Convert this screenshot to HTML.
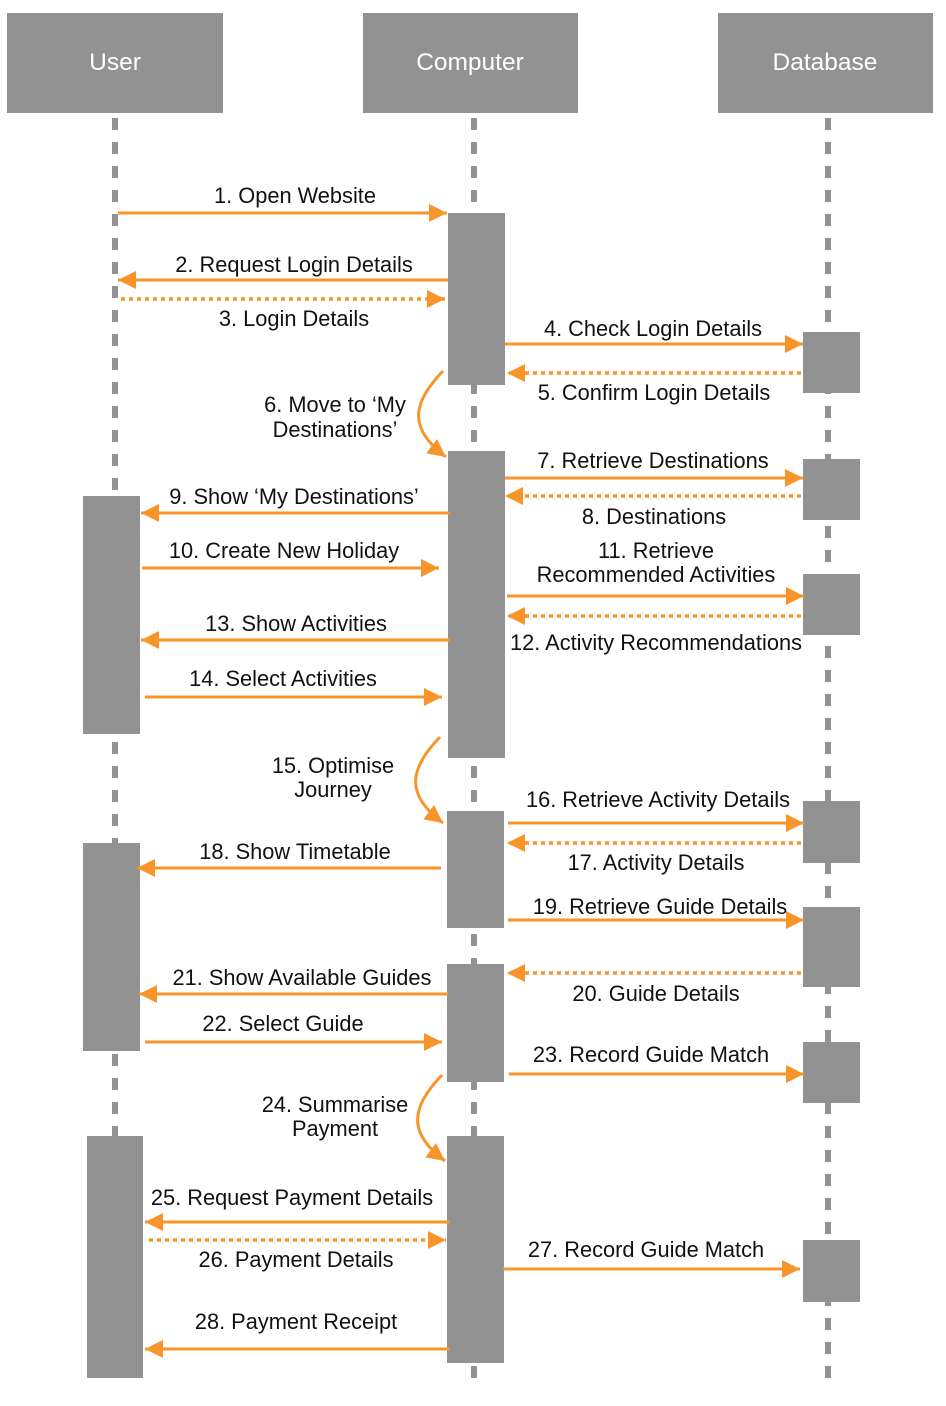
<!DOCTYPE html>
<html><head><meta charset="utf-8"><style>
html,body{margin:0;padding:0;background:#fff;}
svg{display:block;}
text{font-family:"Liberation Sans",Arial,sans-serif;font-size:21.8px;fill:#111;}
.h{fill:#fff;font-size:24.5px;}
.ll{stroke:#929292;stroke-width:6;stroke-dasharray:12 12;}
.s{stroke:#f7952a;stroke-width:3;fill:none;marker-end:url(#a);}
.d{stroke:#f7952a;stroke-width:3.5;fill:none;stroke-dasharray:4 4;marker-end:url(#a);}
.c{stroke:#f7952a;stroke-width:3;fill:none;marker-end:url(#a);}
.b{fill:#929292;}
</style></head><body>
<svg width="946" height="1406" viewBox="0 0 946 1406" xmlns="http://www.w3.org/2000/svg">
<defs><marker id="a" markerUnits="userSpaceOnUse" markerWidth="20" markerHeight="20" refX="18" refY="9" orient="auto"><path d="M0,0 L18,9 L0,18 Z" fill="#f7952a"/></marker></defs>
<rect class="b" x="7" y="13" width="216" height="100"/>
<rect class="b" x="363" y="13" width="215" height="100"/>
<rect class="b" x="718" y="13" width="215" height="100"/>
<text class="h" x="115" y="70" text-anchor="middle">User</text>
<text class="h" x="470" y="70" text-anchor="middle">Computer</text>
<text class="h" x="825" y="70" text-anchor="middle">Database</text>
<line class="ll" x1="115" y1="118" x2="115" y2="1380"/>
<line class="ll" x1="474" y1="118" x2="474" y2="1380"/>
<line class="ll" x1="828" y1="118" x2="828" y2="1380"/>
<rect class="b" x="448" y="213" width="57" height="172"/>
<rect class="b" x="448" y="451" width="57" height="307"/>
<rect class="b" x="447" y="811" width="57" height="117"/>
<rect class="b" x="447" y="964" width="57" height="118"/>
<rect class="b" x="447" y="1136" width="57" height="227"/>
<rect class="b" x="83" y="496" width="57" height="238"/>
<rect class="b" x="83" y="843" width="57" height="208"/>
<rect class="b" x="87" y="1136" width="56" height="242"/>
<rect class="b" x="803" y="332" width="57" height="61"/>
<rect class="b" x="803" y="459" width="57" height="61"/>
<rect class="b" x="803" y="574" width="57" height="61"/>
<rect class="b" x="803" y="801" width="57" height="62"/>
<rect class="b" x="803" y="907" width="57" height="80"/>
<rect class="b" x="803" y="1042" width="57" height="61"/>
<rect class="b" x="803" y="1240" width="57" height="62"/>
<line class="s" x1="118" y1="213" x2="447" y2="213"/><text x="295" y="203" text-anchor="middle">1. Open Website</text>
<line class="s" x1="448" y1="280" x2="118" y2="280"/><text x="294" y="272" text-anchor="middle">2. Request Login Details</text>
<line class="d" x1="121" y1="299" x2="445" y2="299"/><text x="294" y="326" text-anchor="middle">3. Login Details</text>
<line class="s" x1="505" y1="344" x2="803" y2="344"/><text x="653" y="336" text-anchor="middle">4. Check Login Details</text>
<line class="d" x1="801" y1="373" x2="507" y2="373"/><text x="654" y="400" text-anchor="middle">5. Confirm Login Details</text>
<path class="c" d="M443,371 C410,405 410,430 446,457"/><text x="335" y="412" text-anchor="middle">6. Move to ‘My</text><text x="335" y="437" text-anchor="middle">Destinations’</text>
<line class="s" x1="505" y1="478" x2="803" y2="478"/><text x="653" y="468" text-anchor="middle">7. Retrieve Destinations</text>
<line class="d" x1="801" y1="496" x2="505" y2="496"/><text x="654" y="524" text-anchor="middle">8. Destinations</text>
<line class="s" x1="450" y1="513" x2="141" y2="513"/><text x="294" y="504" text-anchor="middle">9. Show ‘My Destinations’</text>
<line class="s" x1="142" y1="568" x2="439" y2="568"/><text x="284" y="558" text-anchor="middle">10. Create New Holiday</text>
<line class="s" x1="507" y1="596" x2="804" y2="596"/><text x="656" y="558" text-anchor="middle">11. Retrieve</text><text x="656" y="582" text-anchor="middle">Recommended Activities</text>
<line class="d" x1="801" y1="616" x2="507" y2="616"/><text x="656" y="650" text-anchor="middle">12. Activity Recommendations</text>
<line class="s" x1="450" y1="640" x2="141" y2="640"/><text x="296" y="631" text-anchor="middle">13. Show Activities</text>
<line class="s" x1="145" y1="697" x2="442" y2="697"/><text x="283" y="686" text-anchor="middle">14. Select Activities</text>
<path class="c" d="M440,737 C407,771 407,796 443,823"/><text x="333" y="773" text-anchor="middle">15. Optimise</text><text x="333" y="797" text-anchor="middle">Journey</text>
<line class="s" x1="508" y1="823" x2="804" y2="823"/><text x="658" y="807" text-anchor="middle">16. Retrieve Activity Details</text>
<line class="d" x1="801" y1="843" x2="507" y2="843"/><text x="656" y="870" text-anchor="middle">17. Activity Details</text>
<line class="s" x1="441" y1="868" x2="137" y2="868"/><text x="295" y="859" text-anchor="middle">18. Show Timetable</text>
<line class="s" x1="508" y1="920" x2="804" y2="920"/><text x="660" y="914" text-anchor="middle">19. Retrieve Guide Details</text>
<line class="d" x1="801" y1="973" x2="507" y2="973"/><text x="656" y="1001" text-anchor="middle">20. Guide Details</text>
<line class="s" x1="448" y1="994" x2="139" y2="994"/><text x="302" y="985" text-anchor="middle">21. Show Available Guides</text>
<line class="s" x1="145" y1="1042" x2="442" y2="1042"/><text x="283" y="1031" text-anchor="middle">22. Select Guide</text>
<line class="s" x1="509" y1="1074" x2="804" y2="1074"/><text x="651" y="1062" text-anchor="middle">23. Record Guide Match</text>
<path class="c" d="M442,1075 C409,1109 409,1134 445,1161"/><text x="335" y="1112" text-anchor="middle">24. Summarise</text><text x="335" y="1136" text-anchor="middle">Payment</text>
<line class="s" x1="450" y1="1222" x2="145" y2="1222"/><text x="292" y="1205" text-anchor="middle">25. Request Payment Details</text>
<line class="d" x1="149" y1="1240" x2="446" y2="1240"/><text x="296" y="1267" text-anchor="middle">26. Payment Details</text>
<line class="s" x1="503" y1="1269" x2="800" y2="1269"/><text x="646" y="1257" text-anchor="middle">27. Record Guide Match</text>
<line class="s" x1="450" y1="1349" x2="145" y2="1349"/><text x="296" y="1329" text-anchor="middle">28. Payment Receipt</text>
</svg>
</body></html>
